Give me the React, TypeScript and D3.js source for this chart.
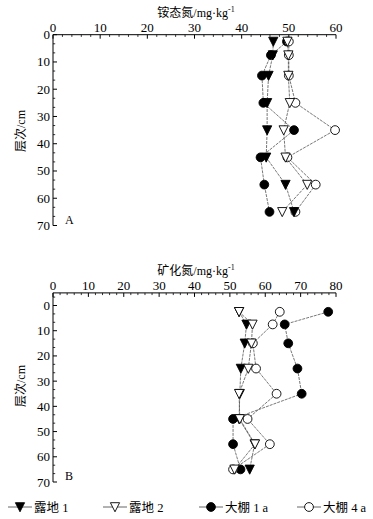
import React from 'react';
import * as d3 from 'd3';

const depths = [2.5, 7.5, 15, 25, 35, 45, 55, 65];
const seriesNames = ['露地 1', '露地 2', '大棚 1 a', '大棚 4 a'];

// Panel A: 铵态氮
const ammoniumLudi1 = [46.7, 46.6, 45.7, 45.4, 45.4, 45.2, 49.3, 51.1];
const ammoniumLudi2 = [49.7, 49.9, 49.9, 50.2, 48.9, 49.3, 53.9, 48.6];
const ammoniumPeng1 = [49.6, 46.2, 44.3, 44.6, 51.1, 44.0, 44.8, 45.9];
const ammoniumPeng4 = [50.0, 50.0, 50.0, 51.4, 59.8, 49.7, 55.7, 51.4];

// Panel B: 矿化氮
const mineralLudi1 = [52.6, 54.7, 54.2, 53.1, 52.8, 52.6, 57.0, 55.6];
const mineralLudi2 = [52.6, 56.4, 56.1, 55.2, 52.6, 52.8, 57.1, 51.3];
const mineralPeng1 = [77.8, 65.5, 66.5, 69.1, 70.3, 50.9, 50.9, 53.0];
const mineralPeng4 = [64.1, 62.1, 56.5, 57.4, 63.2, 55.0, 61.3, 50.9];

const xTicksA = [0, 10, 20, 30, 40, 50, 60];
const xTicksB = [0, 10, 20, 30, 40, 50, 60, 70, 80];
const yTicks = [0, 10, 20, 30, 40, 50, 60, 70];

const FONT = '"Liberation Serif", "DejaVu Serif", serif';
const CJK = '"Liberation Serif", "Noto Sans CJK SC", serif';

type Kind = 'triFill' | 'triOpen' | 'cirFill' | 'cirOpen';

function Marker({ kind, x, y }: { kind: Kind; x: number; y: number }) {
  const fill = kind === 'triFill' || kind === 'cirFill' ? '#000' : '#fff';
  if (kind === 'triFill' || kind === 'triOpen') {
    const w = 4.6, h = 4.3;
    const p = `M${x - w},${y - h}L${x + w},${y - h}L${x},${y + h + 0.5}Z`;
    return <path d={p} fill={fill} stroke="#000" strokeWidth={0.9} />;
  }
  return <circle cx={x} cy={y} r={4.4} fill={fill} stroke="#000" strokeWidth={0.9} />;
}

const kinds: Kind[] = ['triFill', 'triOpen', 'cirFill', 'cirOpen'];
// drawing order: 大棚1a, 大棚4a, 露地1, 露地2
const drawOrder = [2, 3, 0, 1];

function Panel({
  title, xTicks, xMax, series, top, yMin, label, yZero, yEnd, labelY,
}: {
  title: string; xTicks: number[]; xMax: number; series: number[][]; top: number;
  yMin: number; label: string; yZero: number; yEnd: number; labelY: number;
}) {
  const x = d3.scaleLinear().domain([0, xMax]).range([53, 336]);
  const y = d3.scaleLinear().domain([0, 70]).range([yZero, yEnd]);
  const axisY = y(yMin);
  const line = d3.line<number>().x((d) => x(d)).y((_, i) => y(depths[i]));
  const xMinor = d3.range(0, xMax + 0.001, 2).filter((v) => v % 10 !== 0);
  const yMinor = d3.range(Math.ceil(yMin), 70, 10 / 3).filter((v) => Math.abs(v % 10) > 0.01);
  const yMinorAll: number[] = [];
  for (let k = 0; k < 7; k++) { yMinorAll.push(k * 10 + 10 / 3, k * 10 + 20 / 3); }
  if (yMin < 0) yMinorAll.push(-10 / 3);
  return (
    <g>
      <text x={196} y={top} fontFamily={CJK} fontSize={12} textAnchor="middle">
        {title}
        <tspan>/mg·kg</tspan>
        <tspan fontSize={8} dy={-5}>-1</tspan>
      </text>
      {/* axes */}
      <line x1={53} x2={336} y1={axisY} y2={axisY} stroke="#000" strokeWidth={1} />
      <line x1={53} x2={53} y1={axisY} y2={y(70)} stroke="#000" strokeWidth={1} />
      {xTicks.map((t) => (
        <g key={'xt' + t}>
          <line x1={x(t)} x2={x(t)} y1={axisY} y2={axisY + 4} stroke="#000" strokeWidth={1} />
          <text x={x(t)} y={axisY - 3} fontFamily={FONT} fontSize={13} textAnchor="middle">{t}</text>
        </g>
      ))}
      {xMinor.map((t) => (
        <line key={'xm' + t} x1={x(t)} x2={x(t)} y1={axisY} y2={axisY + 2.2} stroke="#000" strokeWidth={0.8} />
      ))}
      {yTicks.map((t) => (
        <g key={'yt' + t}>
          <line x1={53} x2={57} y1={y(t)} y2={y(t)} stroke="#000" strokeWidth={1} />
          <text x={50} y={y(t) + 4.5} fontFamily={FONT} fontSize={13} textAnchor="end">{t}</text>
        </g>
      ))}
      {yMinorAll.map((t, i) => (
        <line key={'ym' + i} x1={53} x2={55.2} y1={y(t)} y2={y(t)} stroke="#000" strokeWidth={0.8} />
      ))}
      <text transform={`translate(25,${labelY}) rotate(-90)`} fontFamily={CJK} fontSize={12} textAnchor="middle">层次/cm</text>
      <text x={65} y={y(70) - 2} fontFamily={FONT} fontSize={12}>{label}</text>
      {drawOrder.map((si) => (
        <g key={'s' + si}>
          <path d={line(series[si]) || ''} fill="none" stroke="#555" strokeWidth={0.8} strokeDasharray="3,1" />
          {series[si].map((v, i) => (
            <Marker key={i} kind={kinds[si]} x={x(v)} y={y(depths[i])} />
          ))}
        </g>
      ))}
    </g>
  );
}

export default function App() {
  const legendX = [8, 103, 199, 297];
  return (
    <svg width={373} height={519} style={{ position: 'absolute', left: 0, top: 0, background: '#fff' }}>
      <rect width={373} height={519} fill="#fff" />
      <Panel
        title="铵态氮" xTicks={xTicksA} xMax={60}
        series={[ammoniumLudi1, ammoniumLudi2, ammoniumPeng1, ammoniumPeng4]}
        top={17} yMin={0} label="A" yZero={34.7} yEnd={225.5} labelY={131}
      />
      <Panel
        title="矿化氮" xTicks={xTicksB} xMax={80}
        series={[mineralLudi1, mineralLudi2, mineralPeng1, mineralPeng4]}
        top={275} yMin={-5} label="B" yZero={305.5} yEnd={482} labelY={386}
      />
      {seriesNames.map((n, i) => (
        <g key={n}>
          <line x1={legendX[i]} x2={legendX[i] + 24} y1={507} y2={507} stroke="#555" strokeWidth={0.9} />
          <Marker kind={kinds[i]} x={legendX[i] + 12} y={507} />
          <text x={legendX[i] + 26} y={512} fontFamily={CJK} fontSize={12.5}>{n}</text>
        </g>
      ))}
    </svg>
  );
}
